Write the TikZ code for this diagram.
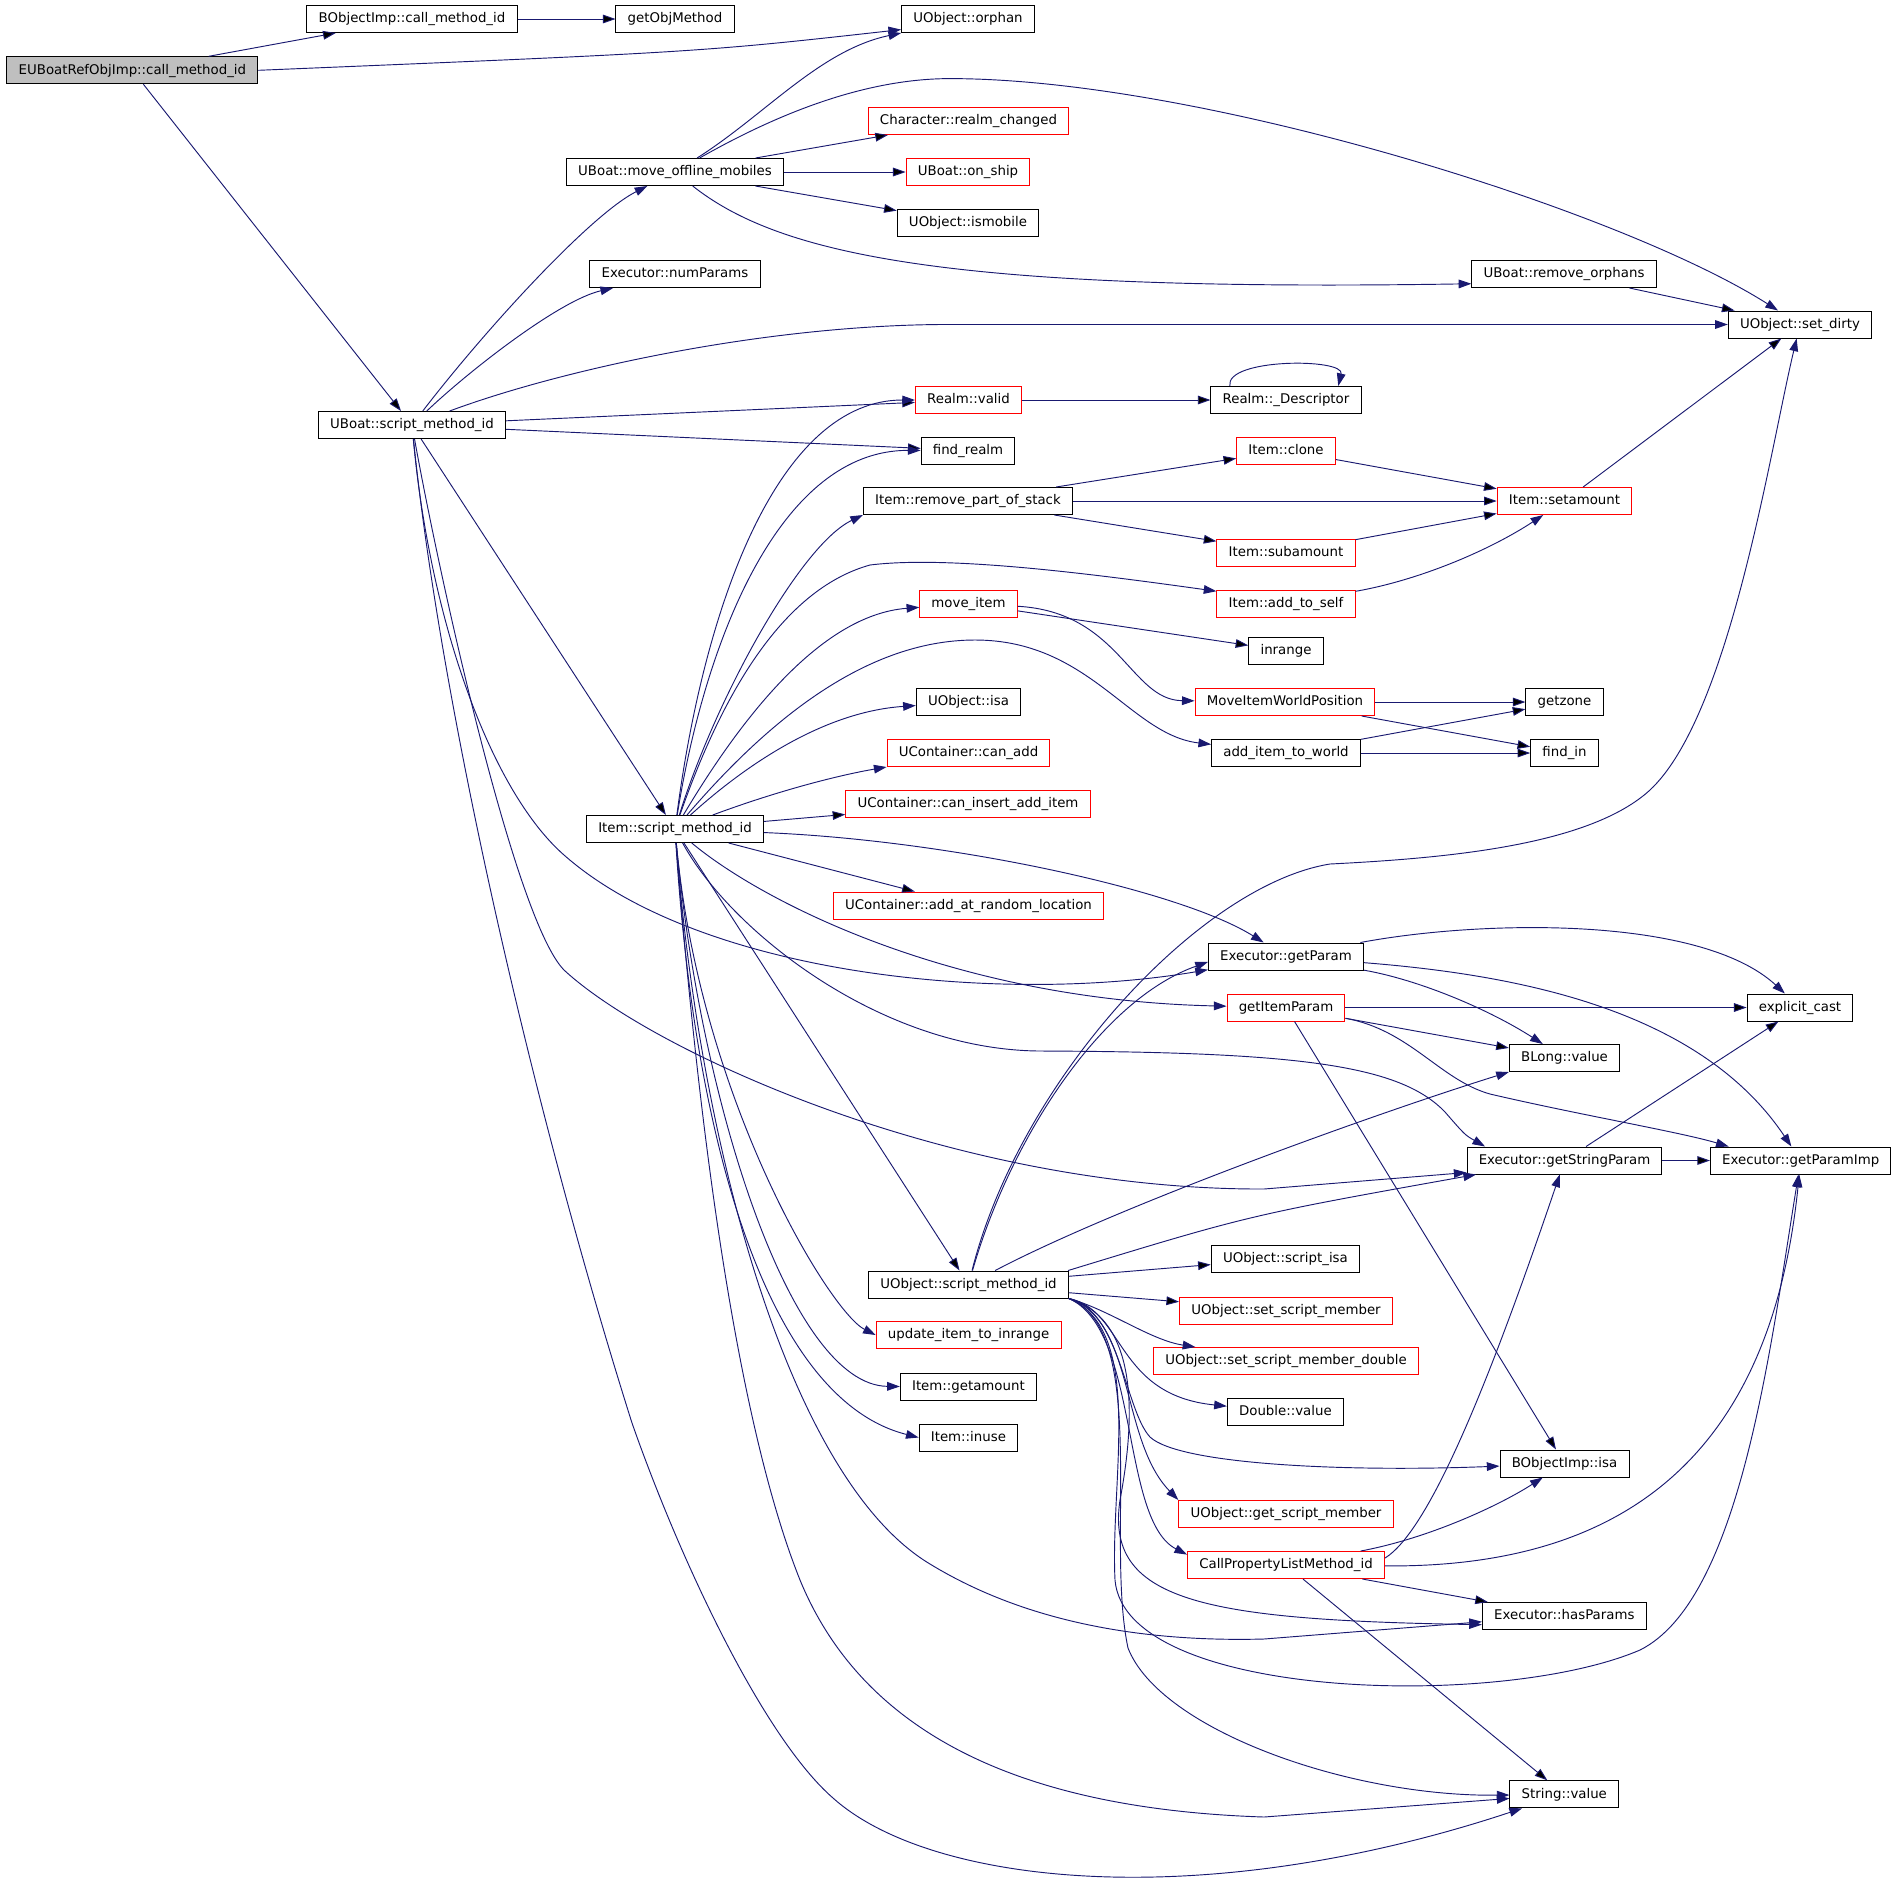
\documentclass[tikz,border=0pt]{standalone}
\usepackage{fontspec}
\setmainfont{DejaVu Sans}
\usetikzlibrary{arrows.meta}
\definecolor{edgeblue}{RGB}{25,25,112}
\definecolor{rootgray}{RGB}{191,191,191}
\tikzset{
  fn/.style={draw=black, line width=0.75pt, rectangle, fill=white, inner xsep=8.8pt, inner ysep=0pt,
    minimum height=20.25pt, text height=8pt, text depth=2.2pt, font=\fontsize{10}{12}\selectfont},
  fnred/.style={fn, draw=red},
  fnroot/.style={fn, fill=rootgray},
  call/.style={draw=edgeblue, line width=0.7pt, -{Triangle[length=9.5pt,width=6.5pt]}}
}
\begin{document}
\begin{tikzpicture}[x=0.75pt, y=-0.75pt]
	\useasboundingbox (0,0) rectangle (1896,1886);

	\node[fnroot] (root) at (132.4,70.3) {EUBoatRefObjImp::call\_method\_id};
	\node[fn] (boCall) at (412,19) {BObjectImp::call\_method\_id};
	\node[fn] (getObj) at (675,19) {getObjMethod};
	\node[fn] (orphan) at (968,19) {UObject::orphan};
	\node[fnred] (realmChg) at (968.5,121) {Character::realm\_changed};
	\node[fn] (moveOff) at (675,172) {UBoat::move\_offline\_mobiles};
	\node[fnred] (onShip) at (968,172) {UBoat::on\_ship};
	\node[fn] (isMobile) at (968,223) {UObject::ismobile};
	\node[fn] (numParams) at (675,274) {Executor::numParams};
	\node[fn] (remOrph) at (1564,274) {UBoat::remove\_orphans};
	\node[fn] (setDirty) at (1800,324.5) {UObject::set\_dirty};
	\node[fn] (boatScript) at (412,425) {UBoat::script\_method\_id};
	\node[fnred] (realmValid) at (968.5,400) {Realm::valid};
	\node[fn] (realmDesc) at (1286,400) {Realm::\_Descriptor};
	\node[fn] (findRealm) at (968,450.5) {find\_realm};
	\node[fnred] (itemClone) at (1286,450.5) {Item::clone};
	\node[fn] (remPart) at (968,501) {Item::remove\_part\_of\_stack};
	\node[fnred] (setAmount) at (1564.5,501) {Item::setamount};
	\node[fnred] (subAmount) at (1286,552.5) {Item::subamount};
	\node[fnred] (addSelf) at (1286,603.5) {Item::add\_to\_self};
	\node[fnred] (moveItem) at (968.5,603.5) {move\_item};
	\node[fn] (inRange) at (1286,651) {inrange};
	\node[fnred] (moveWorld) at (1285,702) {MoveItemWorldPosition};
	\node[fn] (getZone) at (1564.5,702) {getzone};
	\node[fn] (objIsa) at (968.5,702) {UObject::isa};
	\node[fnred] (canAdd) at (968.5,753) {UContainer::can\_add};
	\node[fn] (addWorld) at (1286,753) {add\_item\_to\_world};
	\node[fn] (findIn) at (1564.5,753) {find\_in};
	\node[fnred] (canInsert) at (968,804) {UContainer::can\_insert\_add\_item};
	\node[fn] (itemScript) at (675,829) {Item::script\_method\_id};
	\node[fnred] (addRandom) at (968.5,905.5) {UContainer::add\_at\_random\_location};
	\node[fn] (getParam) at (1286,956.5) {Executor::getParam};
	\node[fnred] (getItemParam) at (1286,1007.5) {getItemParam};
	\node[fn] (explCast) at (1800,1007.5) {explicit\_cast};
	\node[fn] (blongValue) at (1564.5,1058) {BLong::value};
	\node[fn] (getString) at (1564.5,1160.5) {Executor::getStringParam};
	\node[fn] (getParamImp) at (1800.7,1160.5) {Executor::getParamImp};
	\node[fn] (objScript) at (968.5,1284.5) {UObject::script\_method\_id};
	\node[fn] (scriptIsa) at (1285.4,1258.5) {UObject::script\_isa};
	\node[fnred] (setMember) at (1286,1310.5) {UObject::set\_script\_member};
	\node[fnred] (updRange) at (968.6,1335) {update\_item\_to\_inrange};
	\node[fnred] (setMemberDbl) at (1286,1361) {UObject::set\_script\_member\_double};
	\node[fn] (getAmount) at (968.4,1386.5) {Item::getamount};
	\node[fn] (doubleValue) at (1285.4,1412) {Double::value};
	\node[fn] (itemInuse) at (968.4,1437.5) {Item::inuse};
	\node[fn] (boIsa) at (1564.5,1463.5) {BObjectImp::isa};
	\node[fnred] (getMember) at (1286,1514) {UObject::get\_script\_member};
	\node[fnred] (callProp) at (1286,1565) {CallPropertyListMethod\_id};
	\node[fn] (hasParams) at (1564.3,1616) {Executor::hasParams};
	\node[fn] (strValue) at (1564.3,1794.3) {String::value};

	\path[call]
	(root) edge (boCall)
	(root) edge (boatScript)
	(boCall) edge (getObj)
	(moveOff) edge (realmChg)
	(moveOff) edge (onShip)
	(moveOff) edge (isMobile)
	(remOrph) edge (setDirty)
	(boatScript) edge (realmValid)
	(boatScript) edge (findRealm)
	(boatScript) edge (itemScript)
	(realmValid) edge (realmDesc)
	(remPart) edge (itemClone)
	(remPart) edge (setAmount)
	(remPart) edge (subAmount)
	(itemClone) edge (setAmount)
	(subAmount) edge (setAmount)
	(setAmount) edge (setDirty)
	(moveItem) edge (inRange)
	(moveWorld) edge (getZone)
	(moveWorld) edge (findIn)
	(addWorld) edge (getZone)
	(addWorld) edge (findIn)
	(itemScript) edge (canInsert)
	(itemScript) edge (addRandom)
	(itemScript) edge (objScript)
	(getItemParam) edge (explCast)
	(getItemParam) edge (blongValue)
	(getItemParam) edge (boIsa)
	(getString) edge (explCast)
	(getString) edge (getParamImp)
	(objScript) edge (scriptIsa)
	(objScript) edge (setMember)
	(callProp) edge (hasParams)
	(callProp) edge (strValue)
	;

	\draw[call] (root.east) .. controls (700,52) .. (orphan.189);
	\draw[call] (boatScript) .. controls (485,330) and (590,215) .. (moveOff);
	\draw[call] (boatScript) .. controls (470,370) and (560,300) .. (numParams);
	\draw[call] (boatScript) .. controls (560,370) and (760,326) .. (940,324.5) -- (setDirty);
	\draw[call] (boatScript) .. controls (430,620) and (490,790) .. (564,855) .. controls (700,975) and (1000,1005) .. (getParam);
	\draw[call] (boatScript) .. controls (440,580) and (515,920) .. (564,970) .. controls (650,1050) and (950,1190) .. (1264,1189) -- (getString.187);
	\draw[call] (boatScript) .. controls (440,700) and (530,1100) .. (632,1423) .. controls (680,1560) and (763,1737) .. (833,1798) .. controls (930,1885) and (1200,1915) .. (strValue);

	\draw[call] (moveOff) .. controls (765,115) and (820,50) .. (orphan);
	\draw[call] (moveOff) .. controls (770,118) and (860,78.6) .. (950,78.6) .. controls (1200,78.6) and (1620,210) .. (setDirty);
	\draw[call] (moveOff) .. controls (780,255) and (950,292) .. (remOrph.186);
	\draw[call] (realmDesc.166) .. controls (1225,358) and (1345,358) .. (realmDesc.15);
	\draw[call] (addSelf) .. controls (1420,580) and (1490,550) .. (setAmount);
	\draw[call] (moveItem) .. controls (1120,612) and (1130,700) .. (moveWorld);

	\draw[call] (itemScript) .. controls (705,600) and (780,400) .. (realmValid);
	\draw[call] (itemScript) .. controls (705,640) and (780,450) .. (findRealm);
	\draw[call] (itemScript) .. controls (715,700) and (800,545) .. (remPart.south west);
	\draw[call] (itemScript) .. controls (720,700) and (780,590) .. (870,565) .. controls (950,555) and (1100,575) .. (addSelf.170);
	\draw[call] (itemScript) .. controls (740,720) and (820,615) .. (moveItem);
	\draw[call] (itemScript) .. controls (760,730) and (860,640) .. (975,640) .. controls (1090,640) and (1130,735) .. (addWorld);
	\draw[call] (itemScript) .. controls (740,770) and (820,712) .. (objIsa);
	\draw[call] (itemScript) .. controls (780,790) and (840,775) .. (canAdd.south west);
	\draw[call] (itemScript) .. controls (950,840) and (1180,890) .. (getParam);
	\draw[call] (itemScript) .. controls (760,900) and (950,1000) .. (getItemParam);
	\draw[call] (itemScript) .. controls (730,930) and (880,1050) .. (1040,1051) .. controls (1300,1052) and (1400,1065) .. (1445,1112) .. controls (1465,1135) .. (getString.170);
	\draw[call] (itemScript) .. controls (700,1100) and (830,1312) .. (updRange.west);
	\draw[call] (itemScript) .. controls (700,1100) and (790,1385) .. (getAmount.west);
	\draw[call] (itemScript) .. controls (695,1150) and (770,1400) .. (itemInuse.west);
	\draw[call] (itemScript) .. controls (700,1150) and (790,1480) .. (930,1564) .. controls (1030,1625) and (1150,1642) .. (1264,1639) -- (hasParams.184);
	\draw[call] (itemScript) .. controls (700,1150) and (740,1430) .. (800,1580) .. controls (870,1750) and (1050,1810) .. (1264,1817) -- (strValue);

	\draw[call] (objScript) .. controls (1020,1080) and (1200,885) .. (1330,864) .. controls (1450,858) and (1590,845) .. (1650,790) .. controls (1730,715) and (1770,450) .. (setDirty);
	\draw[call] (objScript) .. controls (1010,1140) and (1100,1000) .. (getParam.184);
	\draw[call] (objScript) .. controls (1120,1205) and (1380,1112) .. (blongValue.south west);
	\draw[call] (objScript.8) .. controls (1250,1215) .. (getString.189);
	\draw[call] (objScript.south east) .. controls (1110,1310) and (1150,1340) .. (setMemberDbl);
	\draw[call] (objScript.south east) .. controls (1125,1310) and (1115,1395) .. (doubleValue);
	\draw[call] (objScript.south east) .. controls (1120,1310) and (1125,1410) .. (1150,1437) .. controls (1180,1465) and (1350,1472) .. (boIsa);
	\draw[call] (objScript.south east) .. controls (1135,1320) and (1120,1440) .. (getMember.north west);
	\draw[call] (objScript.south east) .. controls (1140,1330) and (1120,1520) .. (callProp.174);
	\draw[call] (objScript.south east) .. controls (1140,1320) and (1135,1420) .. (1120,1500) .. controls (1105,1600) and (1200,1620) .. (hasParams.186);
	\draw[call] (objScript.south east) .. controls (1145,1330) and (1110,1480) .. (1115,1580) .. controls (1125,1700) and (1500,1710) .. (1640,1650) .. controls (1740,1600) and (1770,1350) .. (getParamImp);
	\draw[call] (objScript.south east) .. controls (1150,1330) and (1105,1540) .. (1128,1648) .. controls (1160,1730) and (1350,1797) .. (strValue);

	\draw[call] (getParam) .. controls (1480,920) and (1700,915) .. (explCast);
	\draw[call] (getParam) .. controls (1420,980) and (1490,1010) .. (blongValue);
	\draw[call] (getParam) .. controls (1520,975) and (1700,1010) .. (getParamImp);
	\draw[call] (getItemParam) .. controls (1410,1030) and (1440,1080) .. (1490,1094) .. controls (1580,1115) and (1680,1132) .. (getParamImp.169);
	\draw[call] (callProp.4) .. controls (1430,1530) and (1490,1380) .. (getString);
	\draw[call] (callProp) .. controls (1430,1538) and (1500,1505) .. (boIsa);
	\draw[call] (callProp) .. controls (1620,1568) and (1770,1460) .. (getParamImp);
\end{tikzpicture}
\end{document}
